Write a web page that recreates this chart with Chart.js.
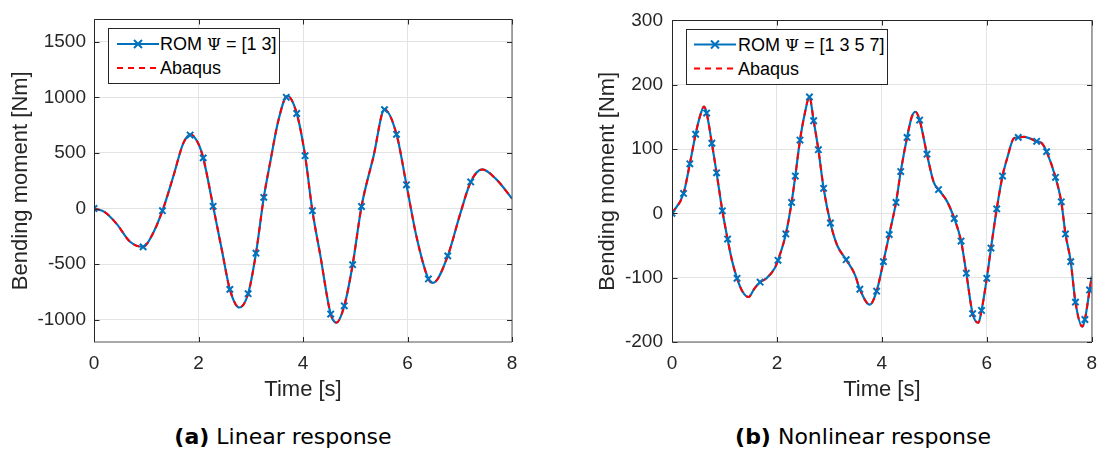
<!DOCTYPE html>
<html><head><meta charset="utf-8">
<script src="https://cdn.jsdelivr.net/npm/chart.js"></script>
<style>
body{margin:0;background:#fff;width:1107px;height:450px;position:relative;overflow:hidden;font-family:"Liberation Sans",Arial,sans-serif;}
canvas{position:absolute;top:0}
#cA{left:0}
#cB{left:555px}
.legend{position:absolute;background:#fff;border:1px solid #262626;box-sizing:border-box;}
.legend svg{position:absolute;left:0;top:0}
.ltxt{position:absolute;left:51px;font-size:18px;line-height:22px;color:#000;white-space:nowrap}
.psi{font-family:"DejaVu Serif","Liberation Serif",serif;font-size:16px}
.caption{position:absolute;top:424px;font-family:"DejaVu Sans",sans-serif;font-size:22px;line-height:26px;transform:translateX(-50%);white-space:nowrap;color:#000}
</style>
</head><body>
<canvas id="cA" width="545" height="410"></canvas>
<canvas id="cB" width="552" height="410"></canvas>

<div class="legend" style="left:108px;top:28px;width:172px;height:56px">
  <svg width="170" height="54">
    <line x1="8" y1="15" x2="50" y2="15" stroke="#0072BD" stroke-width="2"/>
    <path d="M25,11 L33,19 M25,19 L33,11" stroke="#0072BD" stroke-width="2"/>
    <line x1="8" y1="39" x2="50" y2="39" stroke="#FF0000" stroke-width="2" stroke-dasharray="6,5"/>
  </svg>
  <div class="ltxt" style="top:4px">ROM <span class="psi">Ψ</span> = [1 3]</div>
  <div class="ltxt" style="top:28px">Abaqus</div>
</div>

<div class="legend" style="left:686px;top:29px;width:202px;height:56px">
  <svg width="200" height="54">
    <line x1="7" y1="14.5" x2="49" y2="14.5" stroke="#0072BD" stroke-width="2"/>
    <path d="M24,10.5 L32,18.5 M24,18.5 L32,10.5" stroke="#0072BD" stroke-width="2"/>
    <line x1="7" y1="38.5" x2="49" y2="38.5" stroke="#FF0000" stroke-width="2" stroke-dasharray="6,5"/>
  </svg>
  <div class="ltxt" style="top:3.5px">ROM <span class="psi">Ψ</span> = [1 3 5 7]</div>
  <div class="ltxt" style="top:27.5px">Abaqus</div>
</div>

<div class="caption" style="left:283px"><b>(a)</b> Linear response</div>
<div class="caption" style="left:863px"><b>(b)</b> Nonlinear response</div>

<script>
// ---------- Data: (a) Linear response ----------
const leftTime  = [0, 0.2, 0.43, 0.69, 0.94, 1.1, 1.31, 1.52, 1.71, 1.85, 2.0, 2.09, 2.28, 2.45, 2.6, 2.78, 2.95, 3.1, 3.25, 3.37, 3.53, 3.7, 3.88, 4.04, 4.18, 4.33, 4.53, 4.64, 4.79, 4.95, 5.12, 5.35, 5.56, 5.79, 5.98, 6.18, 6.4, 6.49, 6.77, 7.0, 7.21, 7.43, 7.7, 8.0];
const leftValue = [0, -30, -136, -299, -345, -250, -20, 292, 588, 665, 580, 455, 20, -380, -727, -890, -766, -402, 100, 410, 794, 1012, 854, 475, -20, -417, -949, -1025, -875, -505, 18, 470, 889, 667, 213, -270, -633, -668, -426, -62, 239, 351, 262, 90];
const leftMarkTime  = [0, 0.94, 1.31, 1.84, 2.09, 2.28, 2.6, 2.95, 3.1, 3.25, 3.68, 3.88, 4.04, 4.18, 4.53, 4.79, 4.95, 5.12, 5.56, 5.79, 5.98, 6.4, 6.77, 7.21];
const leftMarkValue = [0, -345, -20, 660, 455, 20, -727, -766, -402, 100, 1000, 854, 475, -20, -949, -875, -505, 18, 889, 667, 213, -633, -426, 239];
const leftYTicks = [-1000, -500, 0, 500, 1000, 1500];

// ---------- Data: (b) Nonlinear response ----------
const rightTime  = [0, 0.22, 0.34, 0.45, 0.53, 0.61, 0.66, 0.76, 0.85, 0.96, 1.06, 1.14, 1.24, 1.34, 1.46, 1.57, 1.68, 1.8, 1.96, 2.02, 2.17, 2.28, 2.35, 2.44, 2.53, 2.62, 2.7, 2.79, 2.89, 3.02, 3.15, 3.32, 3.49, 3.58, 3.77, 3.9, 4.03, 4.14, 4.27, 4.36, 4.48, 4.57, 4.64, 4.72, 4.86, 4.99, 5.08, 5.24, 5.38, 5.51, 5.61, 5.73, 5.84, 5.9, 6.0, 6.08, 6.19, 6.3, 6.39, 6.52, 6.6, 6.71, 6.95, 7.05, 7.14, 7.31, 7.42, 7.5, 7.6, 7.69, 7.82, 7.87, 7.96, 8.0];
const rightValue = [0, 31, 77, 123, 150, 166, 156, 109, 63, 4, -40, -72, -101, -121, -130, -117, -107, -101, -85, -73, -32, 17, 58, 114, 155, 181, 144, 99, 39, -15, -50, -72, -96, -118, -142, -121, -75, -33, 17, 65, 118, 150, 158, 145, 92, 48, 37, 19, -8, -43, -93, -156, -170, -151, -101, -54, 7, 58, 86, 117, 118, 119, 112, 109, 96, 56, 18, -32, -75, -138, -176, -165, -119, -98];
const rightMarkTime  = [0, 0.22, 0.34, 0.45, 0.66, 0.76, 0.85, 0.96, 1.06, 1.24, 1.68, 2.02, 2.17, 2.28, 2.35, 2.44, 2.62, 2.7, 2.79, 2.89, 3.02, 3.32, 3.58, 3.9, 4.03, 4.14, 4.27, 4.36, 4.48, 4.72, 4.86, 5.08, 5.38, 5.51, 5.61, 5.73, 5.9, 6.0, 6.08, 6.19, 6.3, 6.6, 6.95, 7.14, 7.31, 7.42, 7.5, 7.6, 7.69, 7.87, 7.96];
const rightMarkValue = [0, 31, 77, 123, 156, 109, 63, 4, -40, -101, -107, -73, -32, 17, 58, 114, 181, 144, 99, 39, -15, -72, -118, -121, -75, -33, 17, 65, 118, 145, 92, 37, -8, -43, -93, -156, -151, -101, -54, 7, 58, 118, 112, 96, 56, 18, -32, -75, -138, -165, -119];
const rightYTicks = [-200, -100, 0, 100, 200, 300];

const xTicks = [0, 2, 4, 6, 8];

const BLUE = '#0072BD', RED = '#FF0000', AXC = '#262626';
const toXY = (t, v) => t.map((ti, i) => ({x: ti, y: v[i]}));

const boxPlugin = {
  id: 'box',
  afterDraw(chart) {
    const {ctx, chartArea: a, scales: {x, y}} = chart;
    ctx.save();
    ctx.strokeStyle = AXC; ctx.lineWidth = 1;
    const L = Math.round(a.left) + 0.5, R = Math.round(a.right);
    const T = Math.round(a.top) + 0.5, B = Math.round(a.bottom);
    ctx.beginPath();
    ctx.moveTo(L, T); ctx.lineTo(R, T);
    ctx.moveTo(L, T); ctx.lineTo(L, B);
    ctx.stroke();
    ctx.beginPath();
    ctx.strokeStyle = '#555';
    ctx.moveTo(L - 0.5, B); ctx.lineTo(R, B);
    ctx.moveTo(R, T - 0.5); ctx.lineTo(R, B);
    ctx.stroke();
    ctx.beginPath();
    ctx.strokeStyle = AXC;
    x.ticks.forEach(t => { const p = Math.round(x.getPixelForValue(t.value)) + 0.5;
      ctx.moveTo(p, B); ctx.lineTo(p, B - 5); ctx.moveTo(p, T); ctx.lineTo(p, T + 5); });
    y.ticks.forEach(t => { const p = Math.round(y.getPixelForValue(t.value)) + 0.5;
      ctx.moveTo(L, p); ctx.lineTo(L + 5, p); ctx.moveTo(R, p); ctx.lineTo(R - 5, p); });
    ctx.stroke();
    ctx.restore();
  }
};

function makeChart(id, cfg) {
  const tickFont = {family: '"Liberation Sans", Arial, sans-serif', size: 19};
  const titleFont = {family: '"Liberation Sans", Arial, sans-serif', size: 22};
  return new Chart(document.getElementById(id), {
    type: 'line',
    data: {
      datasets: [
        {label: 'ROM markers', data: toXY(cfg.mt, cfg.mv), showLine: false, pointStyle: 'crossRot',
         pointRadius: 4.5, pointBorderColor: BLUE, pointBorderWidth: 2, pointBackgroundColor: BLUE, order: 0},
        {label: 'Abaqus', data: toXY(cfg.t, cfg.v), borderColor: RED, borderWidth: 2, borderDash: [6, 5],
         pointRadius: 0, cubicInterpolationMode: 'monotone', order: 1},
        {label: 'ROM', data: toXY(cfg.t, cfg.v), borderColor: BLUE, borderWidth: 2.2,
         pointRadius: 0, cubicInterpolationMode: 'monotone', order: 2}
      ]
    },
    options: {
      responsive: false, animation: false, events: [],
      layout: {padding: {top: 15, right: cfg.padRight, left: 0, bottom: 0}},
      plugins: {legend: {display: false}, tooltip: {enabled: false}},
      scales: {
        x: {
          type: 'linear', min: 0, max: 8,
          afterFit: s => { s.height = 68; },
          afterBuildTicks: s => { s.ticks = xTicks.map(v => ({value: v})); },
          grid: {color: '#e3e3e3', drawTicks: false},
          border: {display: false},
          ticks: {font: tickFont, color: AXC, padding: 10, maxRotation: 0, callback: v => String(v)},
          title: {display: true, text: 'Time [s]', font: titleFont, color: AXC, padding: {top: 0, bottom: 7}}
        },
        y: {
          type: 'linear', min: cfg.ymin, max: cfg.ymax,
          afterFit: s => { s.width = cfg.yWidth; },
          afterBuildTicks: s => { s.ticks = cfg.yt.map(v => ({value: v})); },
          grid: {color: '#e3e3e3', drawTicks: false},
          border: {display: false},
          ticks: {font: tickFont, color: AXC, padding: cfg.tickPad, callback: v => String(v)},
          title: {display: true, text: 'Bending moment [Nm]', font: titleFont, color: AXC, padding: {top: cfg.titlePad, bottom: 0}}
        }
      }
    },
    plugins: [boxPlugin]
  });
}

makeChart('cA', {t: leftTime, v: leftValue, mt: leftMarkTime, mv: leftMarkValue, yt: leftYTicks,
  ymin: -1200, ymax: 1700, yWidth: 94, padRight: 33, tickPad: 8, titlePad: 8});
makeChart('cB', {t: rightTime, v: rightValue, mt: rightMarkTime, mv: rightMarkValue, yt: rightYTicks,
  ymin: -200, ymax: 300, yWidth: 117, padRight: 8, tickPad: 9, titlePad: 40});
</script>
</body></html>
